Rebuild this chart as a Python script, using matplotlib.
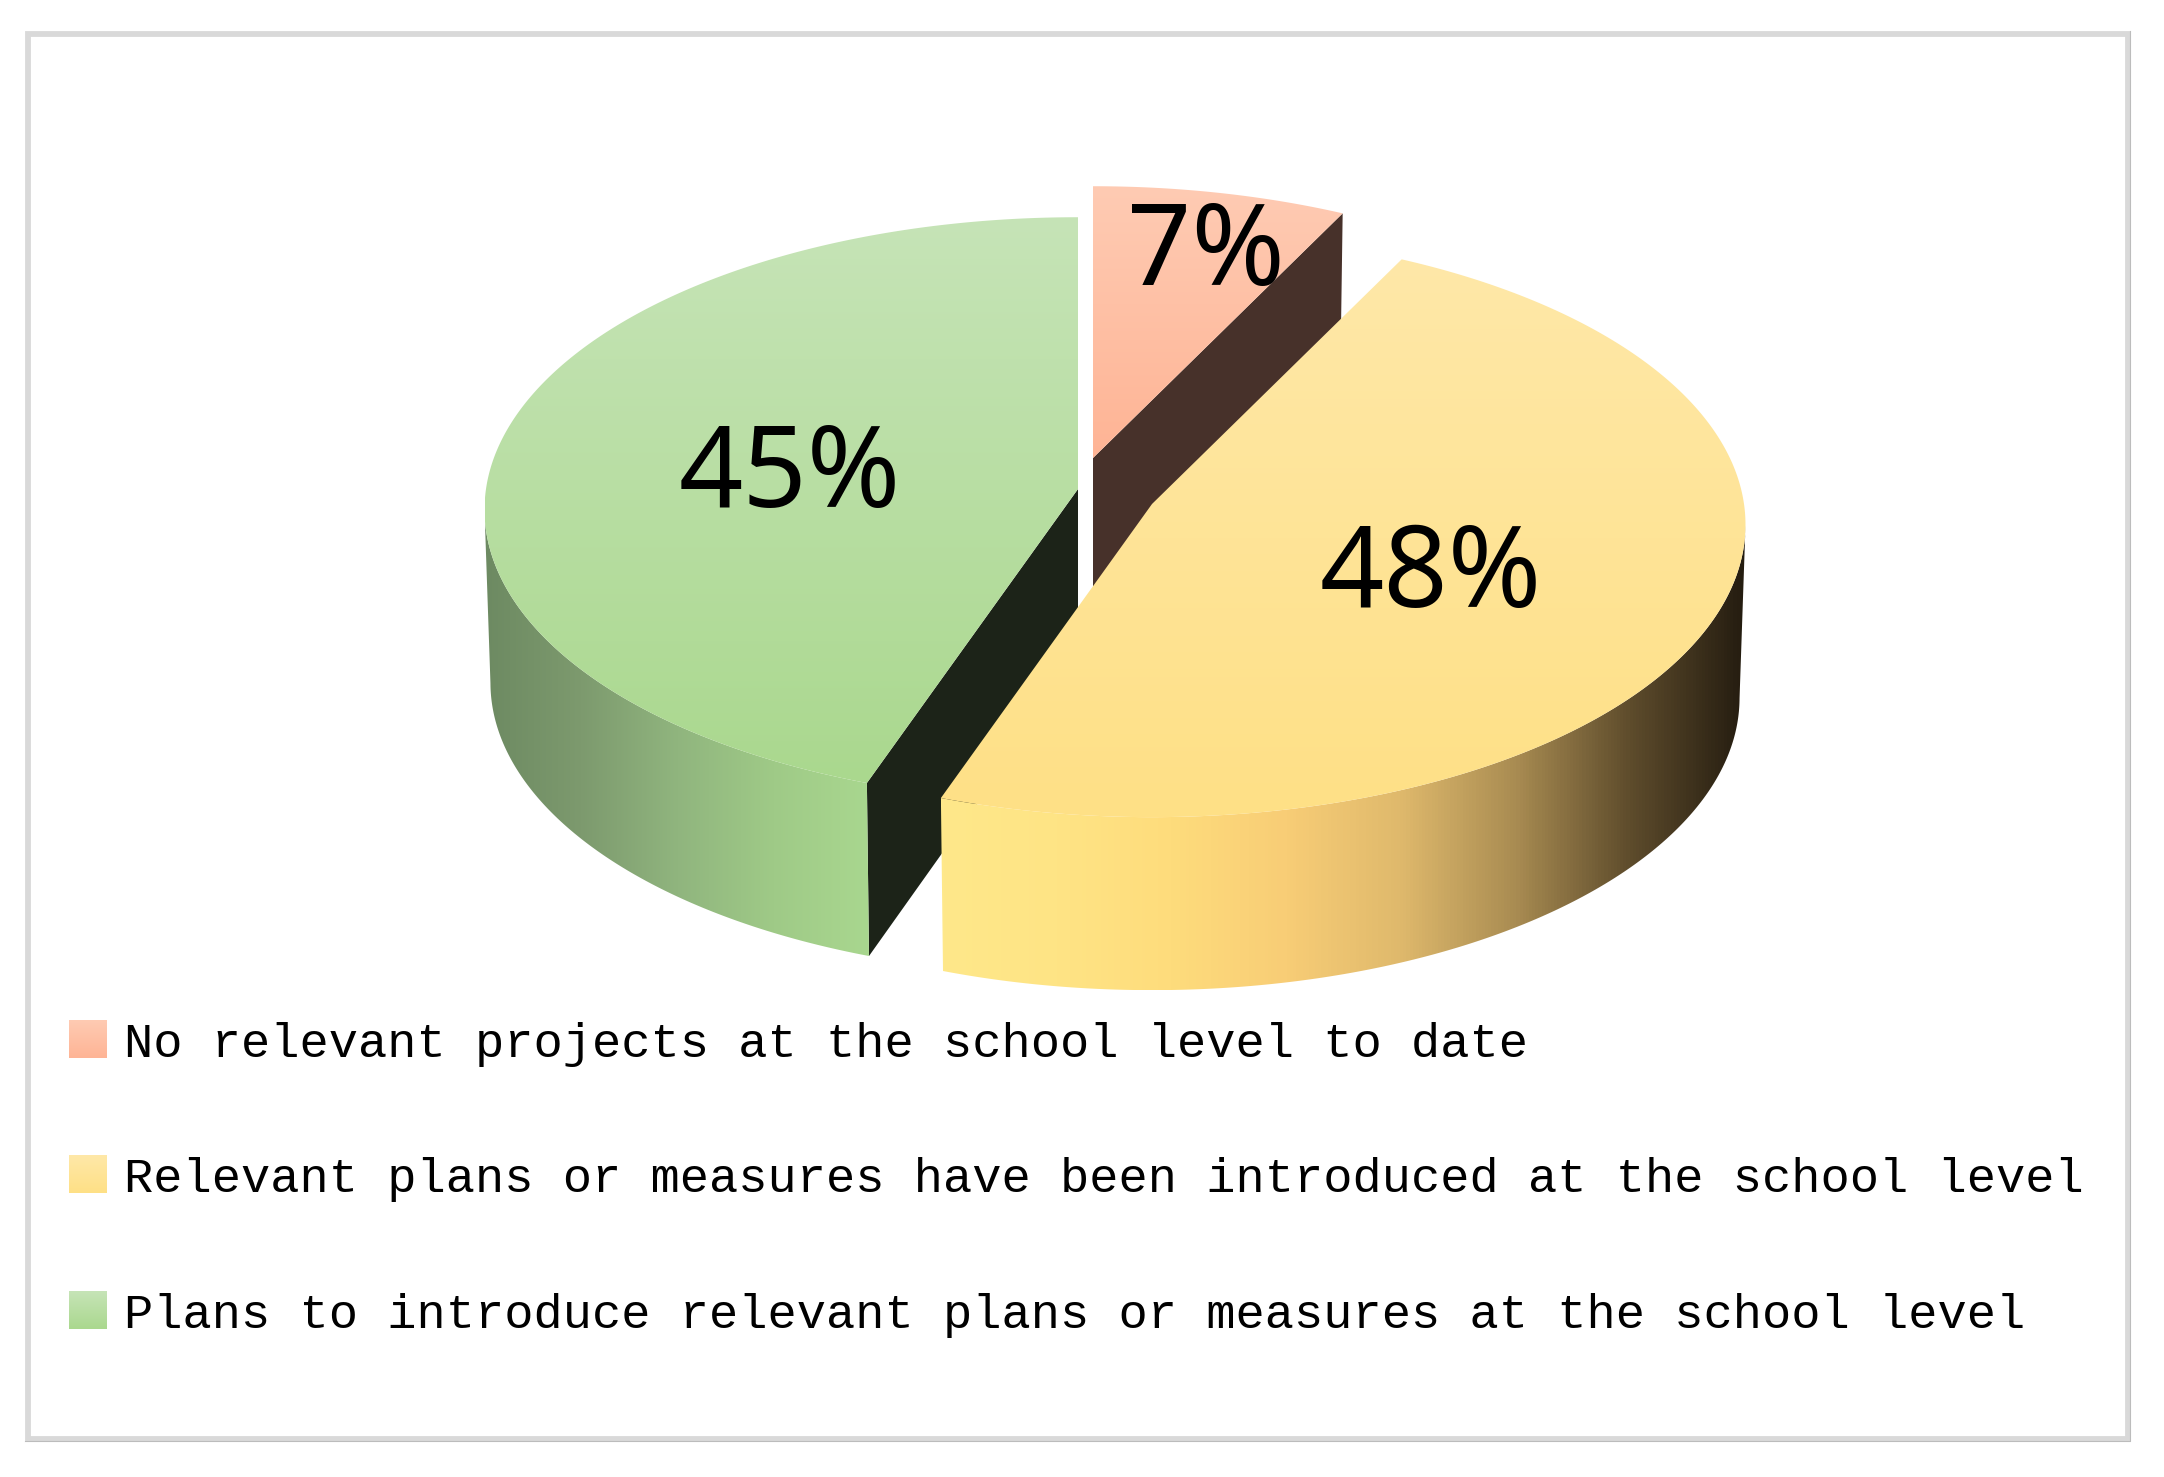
import numpy as np
import matplotlib
matplotlib.use("Agg")
import matplotlib.pyplot as plt
import matplotlib.patches as patches
from matplotlib.colors import LinearSegmentedColormap

# data
categories = ["No relevant projects at the school level to date",
              "Relevant plans or measures have been introduced at the school level",
              "Plans to introduce relevant plans or measures at the school level"]
values = [7.4, 48.0, 44.6]

# top face gradients (far to near), side gradients (left to right), cut face colour
top_colors = [["#fecbb3", "#ffb495"], ["#fee8a8", "#ffe086"], ["#c6e4b7", "#aad88e"]]
side_colors = [None,
               ["#fee88a", "#ffe485", "#fedc7c", "#f8cd76", "#dfb96c", "#a98c52", "#5e4c2c", "#241c10"],
               ["#6d8a62", "#7d9a6e", "#90b57e", "#9fca87", "#a9d78f"]]
cut_colors = ["#47312a", None, "#1c2318"]

# layout, in pixels of the 2164x1477 image
centers = [(1093, 458), (1152, 504), (1078, 489)]
label_pos = [(1206, 256), (1431, 577), (790, 477)]
rx, ry, persp = 592, 291, 0.0707
depth, bottom_scale = 173, 0.99


def project(cx, cy, theta, bottom=False):
    # perspective view of the disc, theta clockwise from the far side
    t = np.radians(theta)
    w = 1 + persp * np.cos(t)
    x = rx * np.sin(t) / w
    y = -ry * np.cos(t) / w
    if bottom:
        return cx + bottom_scale * x, cy + y + depth
    return cx + x, cy + y


def gradient_fill(ax, xy, colors, horizontal=False, zorder=1):
    poly = patches.Polygon(xy, closed=True, facecolor="none", edgecolor="none", zorder=zorder)
    ax.add_patch(poly)
    cmap = LinearSegmentedColormap.from_list("g", colors)
    g = np.linspace(0, 1, 256)
    g = g.reshape(1, -1) if horizontal else g.reshape(-1, 1)
    xy = np.array(xy)
    extent = [xy[:, 0].min(), xy[:, 0].max(), xy[:, 1].max(), xy[:, 1].min()]
    im = ax.imshow(g, cmap=cmap, extent=extent, aspect="auto", origin="upper", zorder=zorder)
    im.set_clip_path(poly)


fig = plt.figure(figsize=(21.64, 14.77), dpi=100)
ax = fig.add_axes([0, 0, 1, 1])

# slice angles from the values
edges = np.concatenate([[0], np.cumsum(values)]) / sum(values) * 360

z = 2
for i in [0, 2, 1]:  # yellow slice goes last, it sits in front of the other two
    cx, cy = centers[i]
    start, end = edges[i], edges[i + 1]
    theta = np.linspace(start, end, 400)

    # cut face that looks at the viewer
    if cut_colors[i] is not None:
        angle = end if i == 0 else start
        tx, ty = project(cx, cy, angle)
        bx, by = project(cx, cy, angle, bottom=True)
        ax.add_patch(patches.Polygon([(cx, cy), (tx, ty), (bx, by), (cx, cy + depth)],
                                     closed=True, facecolor=cut_colors[i], edgecolor="none", zorder=z))
        z += 1

    # outer wall, only the arc between the silhouette points
    if side_colors[i] is not None:
        front = theta[np.cos(np.radians(theta)) <= -persp]
        tx, ty = project(cx, cy, front)
        bx, by = project(cx, cy, front, bottom=True)
        wall = np.concatenate([np.column_stack([tx, ty]), np.column_stack([bx, by])[::-1]])
        gradient_fill(ax, wall, side_colors[i], horizontal=True, zorder=z)
        z += 1

    # top face
    tx, ty = project(cx, cy, theta)
    face = np.concatenate([[(cx, cy)], np.column_stack([tx, ty])])
    gradient_fill(ax, face, top_colors[i], zorder=z)
    z += 1

# percent labels
for i in range(3):
    ax.text(label_pos[i][0], label_pos[i][1], "%.0f%%" % values[i], fontsize=81, family="Noto Sans",
            color="black", ha="center", va="center", zorder=20)

# legend
legend_y = [1058, 1193, 1329]
for i in range(3):
    swatch = [(69, legend_y[i] - 38), (107, legend_y[i] - 38), (107, legend_y[i]), (69, legend_y[i])]
    gradient_fill(ax, swatch, top_colors[i], zorder=20)
    ax.text(124, legend_y[i] - 1, categories[i], fontsize=35.15, family="Liberation Mono", color="black",
            ha="left", va="baseline", zorder=20)

# frame around the chart, darker hairline on the right and bottom
ax.add_patch(patches.Rectangle((28, 33.5), 2099.5, 1405, facecolor="none", edgecolor="#d9d9d9",
                               linewidth=4.2, zorder=30))
ax.plot([2129.5, 2129.5, 25], [31, 1441, 1441], color="#bcbcbc", linewidth=0.8, zorder=31)

ax.set_xlim(0, 2164)
ax.set_ylim(1477, 0)
ax.set_axis_off()
plt.savefig("out.png", dpi=100)
